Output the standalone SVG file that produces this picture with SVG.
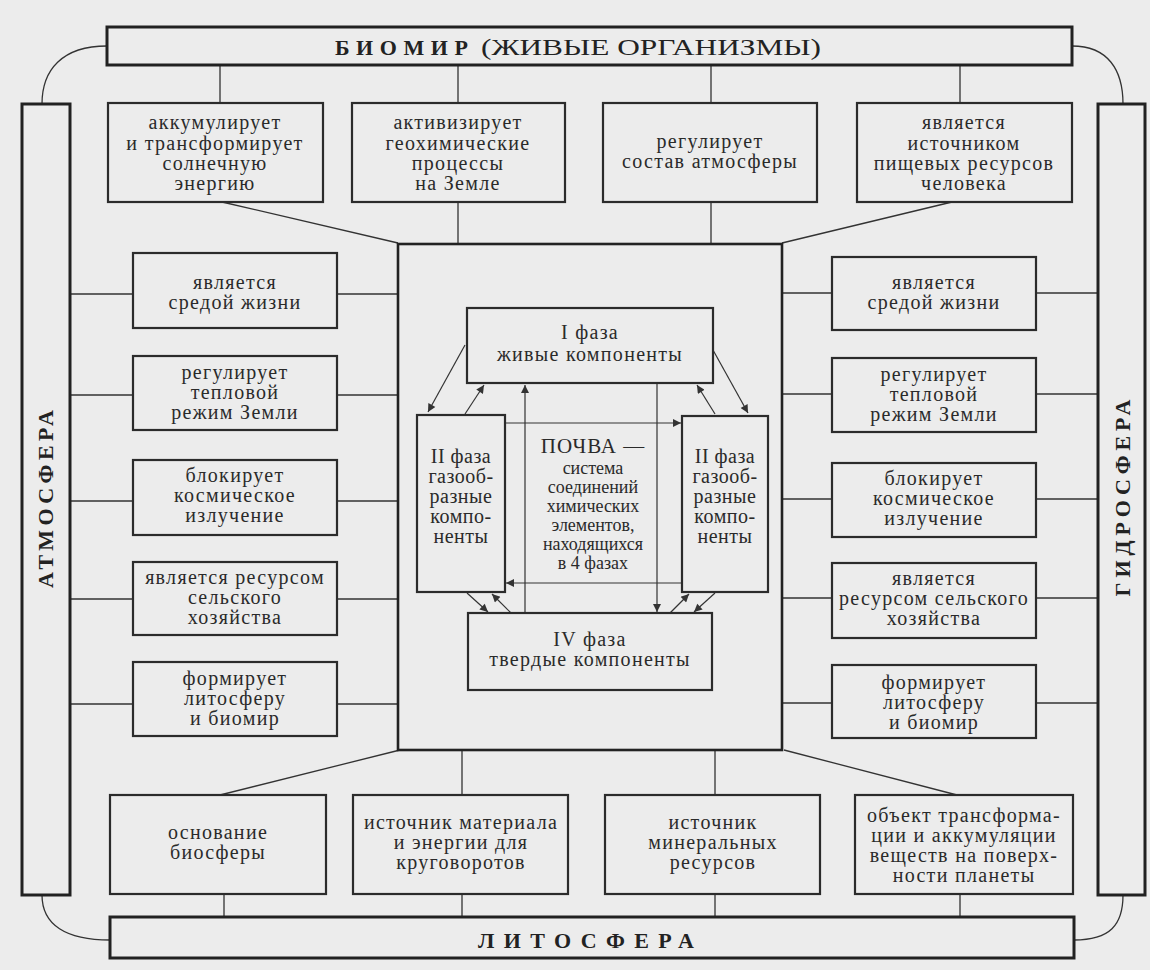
<svg xmlns="http://www.w3.org/2000/svg" width="1150" height="970" viewBox="0 0 1150 970">
<defs>
<style>
.bg{fill:#ececec}
.box{fill:none;stroke:#2b2b2b;stroke-width:2.2}
.frame{fill:none;stroke:#222;stroke-width:3}
.ln{fill:none;stroke:#333;stroke-width:1.3}
.ar{fill:none;stroke:#333;stroke-width:1.2}
.t{font-family:"Liberation Serif","Times New Roman",serif;font-size:20px;fill:#2a2a2a;text-anchor:middle;letter-spacing:1.3px}
.tp{font-family:"Liberation Serif","Times New Roman",serif;font-size:18px;fill:#2a2a2a;text-anchor:middle}
.title{font-family:"Liberation Serif","Times New Roman",serif;font-size:22px;font-weight:bold;fill:#222;text-anchor:middle}
.sub{font-family:"Liberation Serif","Times New Roman",serif;font-size:23px;fill:#222}
</style>
<marker id="ah" viewBox="0 0 10 10" refX="10" refY="5" markerWidth="11" markerHeight="8" markerUnits="userSpaceOnUse" orient="auto">
<path d="M0,0 L10,5 L0,10 z" fill="#333"/>
</marker>
</defs>
<rect class="bg" x="0" y="0" width="1150" height="970"/>

<g id="connectors">
<path class="ln" d="M107,46 C62,46 42,70 42,104"/>
<path class="ln" d="M1072,46 C1108,46 1123,70 1123,104"/>
<path class="ln" d="M42,895 C42,925 66,940 110,940"/>
<path class="ln" d="M1123,895 C1123,925 1110,940 1074,940"/>
<path class="ln" d="M220,65 V103 M458,65 V103 M711,65 V103 M960,65 V103"/>
<path class="ln" d="M222,202 L398,243 M952,202 L782,243 M458,202 V244 M711,202 V244"/>
<path class="ln" d="M400,750 L220,795 M784,750 L957,795 M462,750 V795 M715,750 V795"/>
<path class="ln" d="M224,894 V917 M462,894 V917 M715,894 V917 M960,894 V917"/>
<path class="ln" d="M70,294 H133 M337,294 H398 M70,395 H133 M337,395 H398 M70,501 H133 M337,501 H398 M70,599 H133 M337,599 H398 M70,704 H133 M337,704 H398"/>
<path class="ln" d="M782,293 H832 M1036,293 H1098 M782,394 H832 M1036,394 H1098 M782,499 H832 M1036,499 H1098 M782,598 H832 M1036,598 H1098 M782,703 H832 M1036,703 H1098"/>
<line class="ar" x1="465" y1="345" x2="428" y2="412" marker-end="url(#ah)"/>
<line class="ar" x1="465" y1="414" x2="484" y2="385" marker-end="url(#ah)"/>
<line class="ar" x1="525" y1="613" x2="525" y2="385" marker-end="url(#ah)"/>
<line class="ar" x1="657" y1="383" x2="657" y2="612" marker-end="url(#ah)"/>
<line class="ar" x1="715" y1="414" x2="697" y2="385" marker-end="url(#ah)"/>
<line class="ar" x1="713" y1="350" x2="748" y2="413" marker-end="url(#ah)"/>
<line class="ar" x1="505" y1="423" x2="681" y2="423" marker-end="url(#ah)"/>
<line class="ar" x1="682" y1="583" x2="506" y2="583" marker-end="url(#ah)"/>
<line class="ar" x1="467" y1="593" x2="488" y2="612" marker-end="url(#ah)"/>
<line class="ar" x1="511" y1="613" x2="492" y2="594" marker-end="url(#ah)"/>
<line class="ar" x1="670" y1="613" x2="689" y2="594" marker-end="url(#ah)"/>
<line class="ar" x1="715" y1="593" x2="694" y2="612" marker-end="url(#ah)"/>
</g>

<g id="biomir">
<rect class="frame" x="107" y="27" width="965" height="38"/>
<text class="sub" x="335" y="55" style="font-weight:bold;font-size:22px" textLength="133" lengthAdjust="spacing">БИОМИР</text>
<text class="sub" x="481" y="55" textLength="340" lengthAdjust="spacingAndGlyphs">(ЖИВЫЕ ОРГАНИЗМЫ)</text>
</g>
<g id="litosfera">
<rect class="frame" x="110" y="917" width="964" height="41"/>
<text class="title" x="586" y="948" textLength="216" lengthAdjust="spacing">ЛИТОСФЕРА</text>
</g>
<g id="atmosfera">
<rect class="frame" x="22" y="104" width="48" height="791"/>
<text class="title" transform="translate(53,499) rotate(-90)" textLength="178" lengthAdjust="spacing">АТМОСФЕРА</text>
</g>
<g id="gidrosfera">
<rect class="frame" x="1098" y="104" width="47" height="791"/>
<text class="title" transform="translate(1130,498) rotate(-90)" textLength="197" lengthAdjust="spacing">ГИДРОСФЕРА</text>
</g>

<g id="b1"><rect class="box" x="108" y="103" width="215" height="99"/>
<text class="t"><tspan x="215" y="129">аккумулирует</tspan><tspan x="215" y="150">и трансформирует</tspan><tspan x="215" y="170">солнечную</tspan><tspan x="215" y="190">энергию</tspan></text></g>
<g id="b2"><rect class="box" x="352" y="103" width="213" height="99"/>
<text class="t"><tspan x="458" y="129">активизирует</tspan><tspan x="458" y="150">геохимические</tspan><tspan x="458" y="170">процессы</tspan><tspan x="458" y="190">на Земле</tspan></text></g>
<g id="b3"><rect class="box" x="603" y="103" width="214" height="99"/>
<text class="t"><tspan x="710" y="148">регулирует</tspan><tspan x="710" y="168">состав атмосферы</tspan></text></g>
<g id="b4"><rect class="box" x="857" y="103" width="215" height="99"/>
<text class="t"><tspan x="964" y="129">является</tspan><tspan x="964" y="150">источником</tspan><tspan x="964" y="170">пищевых ресурсов</tspan><tspan x="964" y="190">человека</tspan></text></g>

<g id="l1"><rect class="box" x="133" y="253" width="204" height="75"/>
<text class="t"><tspan x="235" y="289">является</tspan><tspan x="235" y="309">средой жизни</tspan></text></g>
<g id="l2"><rect class="box" x="133" y="356" width="204" height="74"/>
<text class="t"><tspan x="235" y="379">регулирует</tspan><tspan x="235" y="399">тепловой</tspan><tspan x="235" y="419">режим Земли</tspan></text></g>
<g id="l3"><rect class="box" x="133" y="460" width="204" height="75"/>
<text class="t"><tspan x="235" y="482">блокирует</tspan><tspan x="235" y="502">космическое</tspan><tspan x="235" y="522">излучение</tspan></text></g>
<g id="l4"><rect class="box" x="133" y="562" width="204" height="73"/>
<text class="t"><tspan x="235" y="584">является ресурсом</tspan><tspan x="235" y="604">сельского</tspan><tspan x="235" y="624">хозяйства</tspan></text></g>
<g id="l5"><rect class="box" x="133" y="662" width="204" height="74"/>
<text class="t"><tspan x="235" y="685">формирует</tspan><tspan x="235" y="705">литосферу</tspan><tspan x="235" y="725">и биомир</tspan></text></g>

<g id="r1"><rect class="box" x="832" y="257" width="204" height="73"/>
<text class="t"><tspan x="934" y="289">является</tspan><tspan x="934" y="309">средой жизни</tspan></text></g>
<g id="r2"><rect class="box" x="832" y="358" width="204" height="74"/>
<text class="t"><tspan x="934" y="381">регулирует</tspan><tspan x="934" y="401">тепловой</tspan><tspan x="934" y="421">режим Земли</tspan></text></g>
<g id="r3"><rect class="box" x="832" y="463" width="204" height="74"/>
<text class="t"><tspan x="934" y="485">блокирует</tspan><tspan x="934" y="505">космическое</tspan><tspan x="934" y="525">излучение</tspan></text></g>
<g id="r4"><rect class="box" x="832" y="563" width="204" height="75"/>
<text class="t"><tspan x="934" y="585">является</tspan><tspan x="934" y="605">ресурсом сельского</tspan><tspan x="934" y="625">хозяйства</tspan></text></g>
<g id="r5"><rect class="box" x="832" y="665" width="204" height="73"/>
<text class="t"><tspan x="934" y="689">формирует</tspan><tspan x="934" y="709">литосферу</tspan><tspan x="934" y="729">и биомир</tspan></text></g>

<g id="pochva"><rect class="frame" x="398" y="244" width="384" height="506" style="stroke-width:2.6"/>
<text class="tp"><tspan x="593" y="453" style="font-size:21px;letter-spacing:1px">ПОЧВА —</tspan><tspan x="593" y="474">система</tspan><tspan x="593" y="493">соединений</tspan><tspan x="593" y="512">химических</tspan><tspan x="593" y="531">элементов,</tspan><tspan x="593" y="550">находящихся</tspan><tspan x="593" y="569">в 4 фазах</tspan></text></g>

<g id="phase1"><rect class="box" x="467" y="308" width="246" height="75"/>
<text class="t"><tspan x="590" y="339">I фаза</tspan><tspan x="590" y="361">живые компоненты</tspan></text></g>
<g id="phase2l"><rect class="box" x="417" y="415" width="88" height="177"/>
<text class="t" style="letter-spacing:0.5px"><tspan x="461" y="463">II фаза</tspan><tspan x="461" y="483">газооб-</tspan><tspan x="461" y="503">разные</tspan><tspan x="461" y="523">компо-</tspan><tspan x="461" y="543">ненты</tspan></text></g>
<g id="phase2r"><rect class="box" x="682" y="416" width="86" height="176"/>
<text class="t" style="letter-spacing:0.5px"><tspan x="725" y="463">II фаза</tspan><tspan x="725" y="483">газооб-</tspan><tspan x="725" y="503">разные</tspan><tspan x="725" y="523">компо-</tspan><tspan x="725" y="543">ненты</tspan></text></g>
<g id="phase4"><rect class="box" x="468" y="613" width="244" height="77"/>
<text class="t"><tspan x="590" y="646">IV фаза</tspan><tspan x="590" y="666">твердые компоненты</tspan></text></g>

<g id="d1"><rect class="box" x="110" y="795" width="216" height="99"/>
<text class="t"><tspan x="218" y="839">основание</tspan><tspan x="218" y="859">биосферы</tspan></text></g>
<g id="d2"><rect class="box" x="353" y="795" width="215" height="99"/>
<text class="t"><tspan x="461" y="829">источник материала</tspan><tspan x="461" y="849">и энергии для</tspan><tspan x="461" y="869">круговоротов</tspan></text></g>
<g id="d3"><rect class="box" x="605" y="795" width="215" height="99"/>
<text class="t"><tspan x="713" y="829">источник</tspan><tspan x="713" y="849">минеральных</tspan><tspan x="713" y="869">ресурсов</tspan></text></g>
<g id="d4"><rect class="box" x="855" y="795" width="218" height="99"/>
<text class="t"><tspan x="964" y="822">объект трансформа-</tspan><tspan x="964" y="842">ции и аккумуляции</tspan><tspan x="964" y="862">веществ на поверх-</tspan><tspan x="964" y="882">ности планеты</tspan></text></g>
</svg>
